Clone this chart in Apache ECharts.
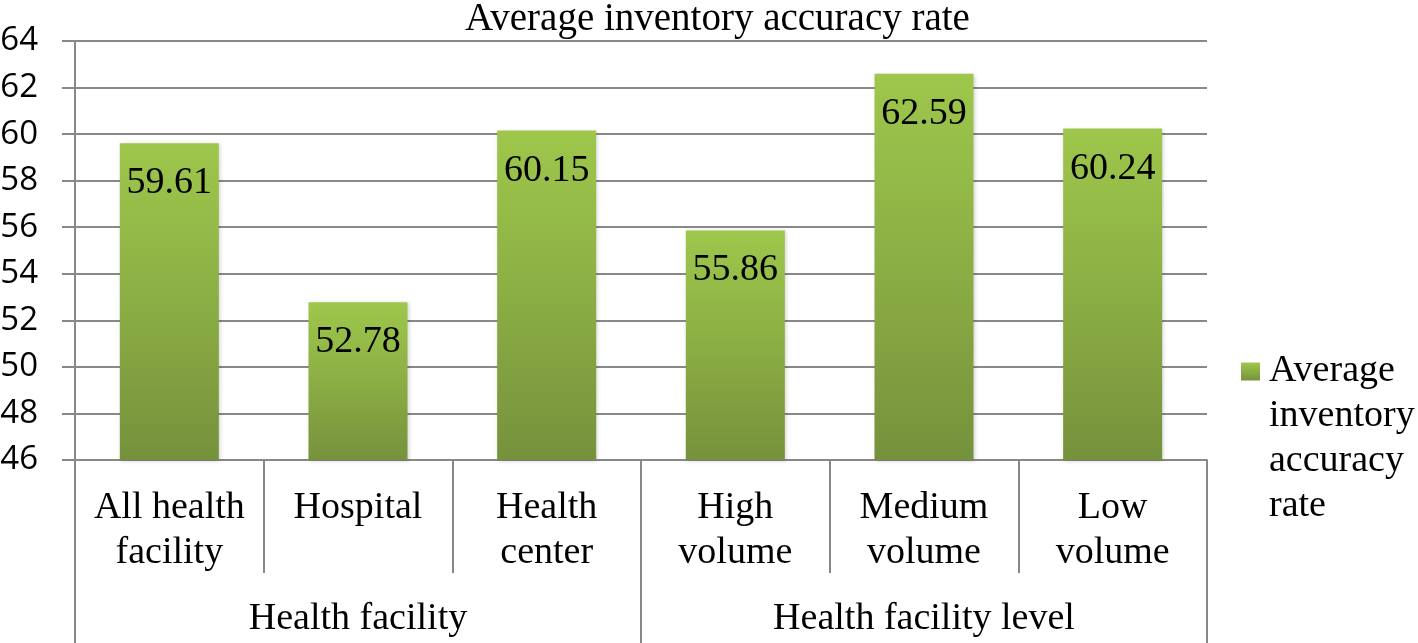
<!DOCTYPE html>
<html>
<head>
<meta charset="utf-8">
<script src="https://cdn.jsdelivr.net/npm/echarts@6/dist/echarts.min.js"></script>
<style>
html,body{margin:0;padding:0;background:#fff;}
#chart{width:1418px;height:643px;}
</style>
</head>
<body>
<div id="chart"></div>
<script>
const titleText = 'Average inventory accuracy rate';
const categories = ['All health\nfacility', 'Hospital', 'Health\ncenter', 'High\nvolume', 'Medium\nvolume', 'Low\nvolume'];
const groups = ['Health facility', 'Health facility level'];
const seriesName = 'Average inventory accuracy rate';
const legendLines = ['Average', 'inventory', 'accuracy', 'rate'];
const values = [59.61, 52.78, 60.15, 55.86, 62.59, 60.24];
const yMin = 46, yMax = 64, yStep = 2;

const serif = '"Liberation Serif", "Times New Roman", serif';
const gray = '#888888';
const barGradient = new echarts.graphic.LinearGradient(0, 0, 0, 1, [
  {offset: 0, color: '#9ec74c'},
  {offset: 0.5, color: '#8bae44'},
  {offset: 1, color: '#76913c'}
]);

const chart = echarts.init(document.getElementById('chart'), null, {renderer: 'canvas'});
chart.setOption({
  animation: false,
  backgroundColor: '#ffffff',
  title: {
    text: titleText,
    left: 465,
    top: 0,
    padding: 0,
    textStyle: {fontFamily: serif, fontSize: 39, fontWeight: 'normal', color: '#000', lineHeight: 39}
  },
  legend: {
    left: 1236,
    top: 209,
    orient: 'vertical',
    itemWidth: 19,
    itemHeight: 18,
    icon: 'rect',
    data: [seriesName],
    formatter: function () { return '\n\n\n' + legendLines.join('\n'); },
    textStyle: {fontFamily: serif, fontSize: 38, lineHeight: 45, color: '#000', padding: [0, 0, 0, 4]}
  },
  grid: {left: 75, right: 211, top: 41, bottom: 183, containLabel: false, outerBoundsMode: 'none'},
  xAxis: [
    {
      type: 'category',
      data: categories,
      position: 'bottom',
      boundaryGap: true,
      axisLine: {show: true, lineStyle: {color: gray, width: 2}},
      axisTick: {show: true, interval: 0, length: 113, lineStyle: {color: gray, width: 2}},
      axisLabel: {interval: 0, margin: 26, fontFamily: serif, fontSize: 38, lineHeight: 45, color: '#000'}
    },
    {
      type: 'category',
      data: groups,
      position: 'bottom',
      boundaryGap: true,
      axisLine: {show: false},
      axisTick: {show: true, interval: 0, length: 183, lineStyle: {color: gray, width: 2}},
      axisLabel: {interval: 0, margin: 140, fontFamily: serif, fontSize: 38, color: '#000'}
    }
  ],
  yAxis: {
    type: 'value',
    min: yMin,
    max: yMax,
    interval: yStep,
    axisLine: {show: true, lineStyle: {color: gray, width: 2}},
    axisTick: {show: true, length: 13, lineStyle: {color: gray, width: 2}},
    axisLabel: {margin: 37, fontFamily: '"Open Sans", sans-serif', fontSize: 33, color: '#000'},
    splitLine: {show: true, lineStyle: {color: gray, width: 2}}
  },
  series: [{
    name: seriesName,
    type: 'bar',
    xAxisIndex: 0,
    data: values,
    barWidth: 99,
    itemStyle: {color: barGradient, shadowBlur: 4, shadowColor: 'rgba(0,0,0,0.18)', shadowOffsetX: 1, shadowOffsetY: 1},
    label: {
      show: true,
      position: 'insideTop',
      distance: 21,
      fontFamily: serif,
      fontSize: 38,
      lineHeight: 38,
      color: '#000',
      formatter: function (p) { return p.value.toFixed(2); }
    }
  }]
});
</script>
</body>
</html>
